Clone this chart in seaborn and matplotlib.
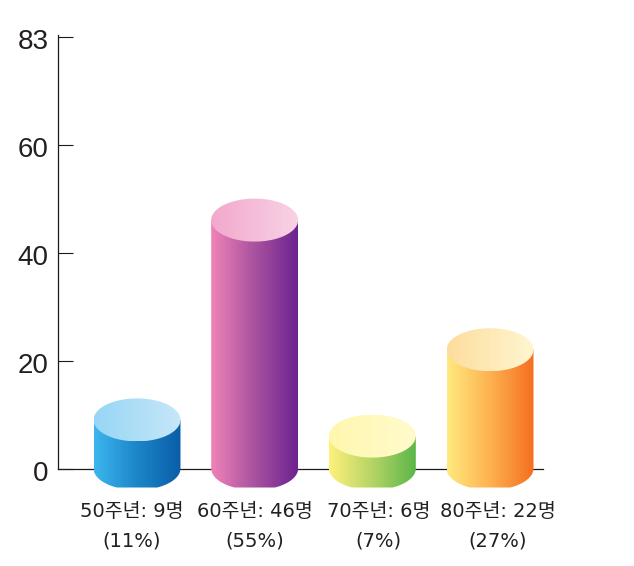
import numpy as np
import pandas as pd
import matplotlib
matplotlib.use("Agg")
import matplotlib.pyplot as plt
from matplotlib.colors import LinearSegmentedColormap
from matplotlib.path import Path
from matplotlib.patches import PathPatch
from matplotlib.transforms import ScaledTranslation
import seaborn as sns

categories = ["50주년: 9명\n(11%)", "60주년: 46명\n(55%)", "70주년: 6명\n(7%)", "80주년: 22명\n(27%)"]
values = [9, 46, 6, 22]
ytick_positions = [0, 20, 40, 60, 80]
ytick_labels = ["0", "20", "40", "60", "83"]
body_colors = [
    ["#3CB6EE", "#1C85C8", "#0A5DA8"],
    ["#F083B8", "#A9529F", "#6C2390"],
    ["#FFF17C", "#B5D465", "#5CB649"],
    ["#FFEA7E", "#FDB14F", "#F56F20"],
]
top_colors = [
    ["#97D6F6", "#C6E7F8"],
    ["#F2A8CC", "#F8D2E4"],
    ["#FFF7AE", "#FFFBCC"],
    ["#FDDD9E", "#FFF6D0"],
]
label_shift_px = [-5.5, 0, 6, 7.5]

sns.set_theme(style="white")
plt.rcParams["font.family"] = ["DejaVu Sans", "Noto Sans CJK KR"]

W, H = 634, 566
fig = plt.figure(figsize=(W / 100, H / 100), dpi=100, facecolor="white")
ax = fig.add_axes([57.5 / W, 1 - 468.5 / H, (543 - 57.5) / W, (468.5 - 35) / H])

df = pd.DataFrame({"category": categories, "value": values})
sns.barplot(data=df, x="category", y="value", hue="category",
            palette=[c[1] for c in body_colors], width=0.739, legend=False, ax=ax,
            saturation=1, zorder=1)

x0 = -(137 - 57.5) / 117.67
x1 = (543 - 137) / 117.67
y1 = (468.5 - 35) / 5.4
ax.set_xlim(x0, x1)
ax.set_ylim(0, y1)

ell_h = 43 / 5.4
clip_y = -(487.5 - 468.5) / 5.4
bars = sorted(ax.patches, key=lambda p: p.get_x())
t = np.linspace(0, 2 * np.pi, 200)


def grad(colors, path, left, right, low, high, z):
    cmap = LinearSegmentedColormap.from_list("g", colors)
    im = ax.imshow(np.linspace(0, 1, 256).reshape(1, -1), cmap=cmap, aspect="auto",
                   extent=[left, right, low, high], zorder=z,
                   interpolation="bilinear")
    clip = PathPatch(path, transform=ax.transData, fc="none", ec="none")
    im.set_clip_path(clip)
    im.set_clip_box(fig.bbox)


for bar, bc, tc in zip(bars, body_colors, top_colors):
    left, w = bar.get_x(), bar.get_width()
    top = bar.get_height()
    cx = left + w / 2
    a = np.linspace(np.pi, 2 * np.pi, 100)
    lx = cx + w / 2 * np.cos(a)
    ly = np.maximum(ell_h / 2 * np.sin(a), clip_y)
    bx = np.r_[left, lx, left + w, left]
    by = np.r_[top, ly, top, top]
    grad(bc, Path(np.c_[bx, by]), left, left + w, clip_y - 1, top, 3)
    ex = cx + w / 2 * np.cos(t)
    ey = top + ell_h / 2 * np.sin(t)
    grad(tc, Path(np.c_[ex, ey]), left, left + w, top - ell_h / 2, top + ell_h / 2, 4)
    bar.set_visible(False)

ax.set_xlim(x0, x1)
ax.set_ylim(0, y1)
ax.set_xlabel("")
ax.set_ylabel("")
sns.despine(ax=ax)
for s in ("left", "bottom"):
    ax.spines[s].set_color("#1a1a1a")
    ax.spines[s].set_linewidth(0.9)

ax.set_yticks(ytick_positions, ytick_labels, fontfamily="Liberation Sans", fontsize=20, color="#231f20")
ax.tick_params(axis="y", direction="in", length=10.5, width=0.8, color="#1a1a1a", pad=6.5, left=True)
for lab in ax.get_yticklabels():
    lab.set_transform(lab.get_transform() + ScaledTranslation(0, -2.5 / 100, fig.dpi_scale_trans))
ax.set_xticks(range(len(categories)))
ax.set_xticklabels(categories, fontsize=14, color="#231f20", linespacing=1.7)
ax.tick_params(axis="x", length=0, pad=24)
for lab, dx in zip(ax.get_xticklabels(), label_shift_px):
    lab.set_transform(lab.get_transform() + ScaledTranslation(dx / 100, 0, fig.dpi_scale_trans))

fig.savefig("out.png", dpi=100, facecolor="white")
